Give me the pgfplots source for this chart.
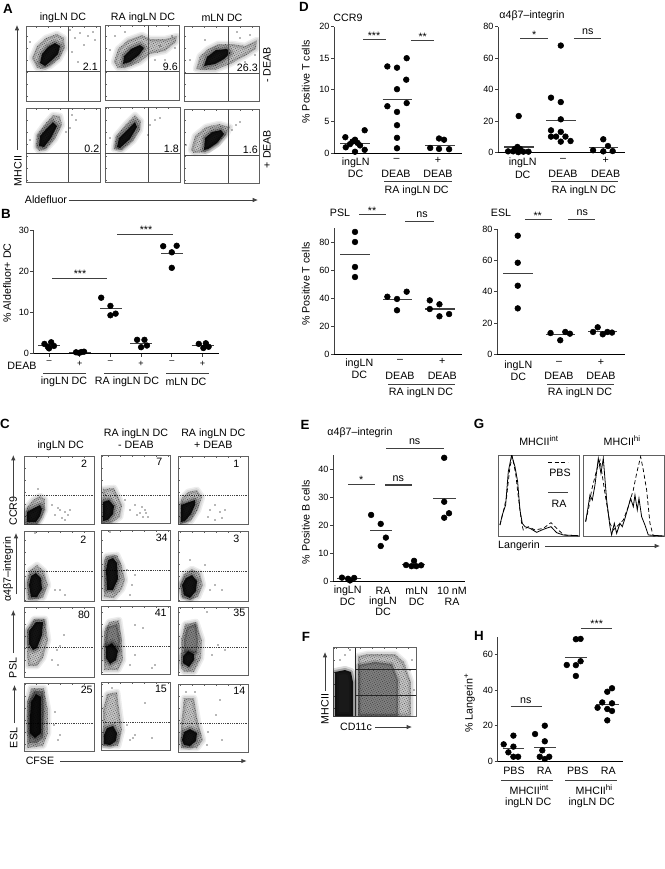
\documentclass[border=0pt]{standalone}
\usepackage{fontspec}
\setmainfont{Liberation Sans}
\usepackage{pgfplots}
\pgfplotsset{compat=1.18}
\usetikzlibrary{arrows.meta,patterns.meta}
\definecolor{fr}{HTML}{606060}
\definecolor{ax}{HTML}{404040}
\newcommand{\fm}{\fontsize{8}{9}\selectfont}
\newcommand{\fs}{\fontsize{6.8}{8}\selectfont}
\newcommand{\fb}{\fontsize{10}{11}\selectfont\bfseries}
\newcommand{\tx}[3]{\node[font=\fm,inner sep=0pt] at (#1,#2) {#3};}
\newcommand{\rt}[3]{\node[font=\fm,inner sep=0pt,rotate=90] at (#1,#2) {#3};}
\newcommand{\lt}[3]{\node[font=\fb,inner sep=0pt] at (#1,#2) {#3};}
\newcommand{\ar}[4]{\draw[-{Latex[length=4pt,width=3.4pt]},line width=.6pt,color=ax] (#1,#2)--(#3,#4);}
\newcommand{\ul}[3]{\draw[line width=.65pt,color=ax] (#1,#3)--(#2,#3);}
% scatter-type styles
\pgfplotsset{
  scat/.style={scale only axis,axis lines=left,clip=false,
    axis line style={-,line width=.7pt},
    x axis line style={-,color=black,line width=.7pt},
    y axis line style={-,color=ax,line width=.9pt},
    xtick=\empty,tick align=outside,major tick length=2.4pt,
    tick style={color=ax,line width=.6pt},
    tick label style={font=\fs,inner sep=1pt},
    /pgf/number format/assume math mode=true,
    anchor=south west},
  pts/.style={only marks,mark=*,mark size=2.15pt,color=black,mark options={draw=none,fill=black}},
  mn/.style={no marks,color=ax,line width=.8pt},
  sg/.style={no marks,color=ax,line width=.8pt},
  flw/.style={scale only axis,anchor=south west,y dir=reverse,axis line style={color=fr,line width=.65pt},
    xticklabels={},yticklabels={},xtick distance=12,ytick distance=12,
    tick align=inside,major tick length=1.3pt,tick style={color=fr,line width=.35pt},
    xtick pos=upper,ytick pos=lower,clip=true},
  px/.style 2 args={at={(#1*0.75pt,-#2*0.75pt)}},
  soft/.style={no markers,line join=round,fill=none,draw=black,draw opacity=#1}
}
\newcommand{\flow}[5]{%
 \pgfmathsetmacro\ww{(#3-#1)*0.75}\pgfmathsetmacro\hh{(#4-#2)*0.75}%
 \begin{axis}[flw,px={#1}{#4},width=\ww pt,height=\hh pt,xmin=#1,xmax=#3,ymin=#2,ymax=#4]
 #5
 \end{axis}}
\newcommand{\blob}[3]{%
 \addplot[soft=.07,line width=5pt] coordinates {#1} --cycle;
 \addplot[soft=.09,line width=2.8pt] coordinates {#1} --cycle;
 \addplot[draw=none,fill=black,fill opacity=.24] coordinates {#1} --cycle;
 \addplot[draw=none,pattern={Dots[radius=.24pt,distance=1.45pt,angle=23]},pattern color=black] coordinates {#1} --cycle;
 \addplot[soft=.14,line width=6pt] coordinates {#2} --cycle;
 \addplot[soft=.25,line width=3pt] coordinates {#2} --cycle;
 \addplot[draw=none,fill=black,fill opacity=.9] coordinates {#2} --cycle;
 \addplot[only marks,mark=*,mark size=.25pt,mark options={draw=none,fill=black!75}] coordinates {#3};}
\newcommand{\midb}[1]{\addplot[soft=.15,line width=3pt] coordinates {#1} --cycle;\addplot[draw=none,fill=black,fill opacity=.35] coordinates {#1} --cycle;}
\newcommand{\gA}[6]{% vx y0 y1 hy x0 x1
 \addplot[no marks,color=black!70,line width=.45pt] coordinates {(#1,#2) (#1,#3)};
 \addplot[no marks,color=black!70,line width=.45pt] coordinates {(#5,#4) (#6,#4)};}
\newcommand{\gC}[3]{\addplot[no marks,color=black!75,line width=.35pt,densely dotted] coordinates {(#1,#3) (#2,#3)};}
\begin{document}
\begin{tikzpicture}[x=0.75pt,y=-0.75pt]
\path[use as bounding box] (0,0) rectangle (665,869);
%%%% A
\flow{26}{26}{100}{101}{\blob{(32,58)(37,46)(46,38)(57,34)(64,38)(65,48)(59,59)(50,66)(42,69)(37,68)}{(40,63)(42,54)(48,47)(55,43)(60,46)(58,54)(51,61)(45,66)}{(75,38)(80,33)(88,36)(93,32)(72,52)(84,45)(30,42)(78,62)(95,40)(70,30)}\gA{68}{26}{101}{71.3}{26}{100}}
\flow{105}{25}{179}{100}{\blob{(114,62)(118,49)(128,40)(142,35)(150,39)(165,39)(177,36)(176,42)(165,51)(150,54)(140,62)(125,68)(118,68)}{(123,64)(124,56)(131,49)(140,45)(144,48)(139,55)(130,62)}{(172,36)(160,46)(155,60)(110,50)(165,60)(125,32)(175,48)(115,36)}\gA{148}{25}{100}{71}{105}{179}}
\flow{184}{26}{259}{101}{\blob{(196,69)(200,56)(208,49)(218,44)(232,44)(245,46)(257,40)(256,49)(245,56)(230,64)(215,70)(201,70)}{(204,66)(207,57)(216,50)(227,49)(230,53)(224,59)(215,64)}{(250,35)(240,38)(237,32)(190,60)(245,62)(255,55)(205,40)}\gA{228}{26}{101}{73}{184}{259}}
\flow{26}{108}{100}{182}{\blob{(36,147)(37,135)(45,124)(53,115)(60,116)(62,125)(55,139)(46,149)(39,151)}{(39,146)(40,136)(47,128)(53,122)(57,126)(51,138)(44,147)}{(72,115)(76,120)(66,132)(70,128)(30,140)}\gA{68}{108}{182}{153}{26}{100}}
\flow{105}{107}{180}{182}{\blob{(114,149)(116,136)(126,124)(135,115)(141,121)(140,130)(133,141)(122,150)}{(117,147)(119,138)(128,129)(135,122)(137,127)(130,139)(120,148)}{(150,125)(155,120)(160,118)(148,135)(110,138)}\gA{148}{107}{182}{153}{105}{180}}
\flow{184}{109}{259}{183}{\blob{(191,150)(195,136)(206,127)(219,124)(230,127)(226,135)(217,144)(205,152)(194,153)}{(204,150)(205,138)(212,132)(221,130)(224,134)(217,143)(208,149)}{(236,125)(240,122)(232,130)(186,145)}\gA{228}{109}{183}{155}{184}{259}}
\tx{63}{18}{ingLN DC}\tx{143}{18}{RA ingLN DC}\tx{222}{18}{mLN DC}
\rt{267}{65}{- DEAB}\rt{267}{149}{+ DEAB}
\rt{18}{171}{MHCII}\ar{17}{150}{17}{25}
\tx{46}{200}{Aldefluor}\ar{69}{200}{258}{200}
\node[font=\fm,anchor=east,inner sep=0pt] at (98,67) {2.1};
\node[font=\fm,anchor=east,inner sep=0pt] at (178,66.5) {9.6};
\node[font=\fm,anchor=east,inner sep=0pt] at (258,67.5) {26.3};
\node[font=\fm,anchor=east,inner sep=0pt] at (99.5,149) {0.2};
\node[font=\fm,anchor=east,inner sep=0pt] at (179,149) {1.8};
\node[font=\fm,anchor=east,inner sep=0pt] at (258,149.5) {1.6};
\lt{8}{9}{A}\lt{6}{214}{B}\lt{5}{424}{C}\lt{304}{7}{D}\lt{305}{425}{E}\lt{306}{637}{F}\lt{479}{424}{G}\lt{479}{636}{H}
%%%% B
\begin{axis}[scat,px={33.7}{353.3},width=139.0pt,height=92pt,xmin=-0.5,xmax=5.54,ymin=0,ymax=30,
  ytick={0,10,20,30},xtick={0,1,2,3,4,5},xticklabels={–,+,–,+,–,+},
  x tick label style={yshift=-2.2pt}]
\addplot[pts] coordinates {(-.15,2.3)(.07,2.7)(.16,1.8)(0,1.2)(-.04,1.6)(.88,.25)(1.05,.3)(1.14,.4)(.98,.1)
 (1.7,13.6)(2,11.6)(2,9.3)(2.17,9.7)(2.87,3.3)(3.11,3.3)(3.19,1.9)(3,1.5)(3.72,26.2)(4.16,26.3)(4,24.7)(4,20.9)(4.88,2.3)(5.11,2.45)(5.2,1.6)(5.03,1.3)};
\addplot[mn] coordinates {(-.35,1.9)(.36,1.9)};
\addplot[mn] coordinates {(.65,.1)(1.37,.1)};
\addplot[mn] coordinates {(1.67,11)(2.37,11)};
\addplot[mn] coordinates {(2.65,2.45)(3.37,2.45)};
\addplot[mn] coordinates {(3.65,24.5)(4.37,24.5)};
\addplot[mn] coordinates {(4.65,1.95)(5.37,1.95)};
\addplot[sg] coordinates {(.11,18.3)(1.9,18.3)};
\addplot[sg] coordinates {(2.23,29.1)(4.03,29.1)};
\end{axis}
\tx{80}{274}{***}\tx{146}{229.5}{***}
\rt{7}{283}{\% Aldefluor+ DC}\tx{22}{366}{DEAB}
\ul{43}{86}{373}\ul{104}{148}{373}\ul{166}{209}{373}
\tx{64}{382}{ingLN DC}\tx{127}{382}{RA ingLN DC}\tx{186}{382}{mLN DC}
%%%% C
\flow{24}{456}{94}{524.3}{\gC{24}{94}{495.7}\blob{(27,507)(33,500)(40,496)(45,499)(45,510)(41,519)(38,524)(25,524)}{(27,512)(34,508)(40,505)(42,509)(40,516)(36,522)(27,522)}{(55,515)(60,510)(65,512)(68,515)(62,518)(58,508)(70,510)(65,520)(52,505)(38,489)}}
\flow{101.3}{455}{170.7}{523.5}{\gC{101}{171}{495}\blob{(103,489)(114,488)(118,496)(122,505)(120,517)(112,523)(102,523)}{(103,502)(109,500)(114,506)(113,514)(108,520)(103,521)}{(140,513)(145,510)(143,517)(137,515)(148,517)(130,510)(135,505)(125,500)(142,507)(146,513)}}
\flow{178.3}{456}{248.3}{524.3}{\gC{178}{249}{495.5}\blob{(181,499)(188,492)(197,490)(202,497)(198,510)(191,521)(180,524)}{(181,505)(189,502)(195,500)(195,505)(191,514)(185,521)(181,522)}{(210,510)(215,505)(220,512)(222,518)(208,517)(215,520)(225,510)}}
\flow{24}{531}{94}{601.7}{\gC{24}{94}{571}\blob{(27,581)(30,570)(37,565)(44,571)(48,585)(43,598)(28,600)}{(29,585)(31,576)(36,573)(41,578)(42,589)(37,597)(31,597)}{(55,590)(60,590)(65,595)(35,533)}}
\flow{101.3}{530}{170.7}{600.5}{\gC{101}{171}{570}\blob{(104,561)(106,556)(117,555)(122,566)(125,580)(122,589)(114,598)(104,597)}{(106,570)(108,560)(113,558)(117,563)(118,579)(113,590)(107,590)}{(135,575)(132,585)(127,570)(130,595)(110,532)}}
\flow{178.3}{531}{248.3}{601.7}{\gC{178}{249}{571}\blob{(180,585)(184,574)(192,569)(200,573)(203,585)(198,597)(190,600)(182,598)}{(182,585)(186,578)(192,575)(197,581)(196,591)(190,598)(184,595)}{(210,590)(215,585)(222,590)(205,565)(190,560)}}
\flow{24}{607.3}{94}{677.7}{\gC{24}{94}{647.3}\blob{(27,653)(27,630)(34,619)(45,619)(48,640)(43,658)(37,666)(28,666)}{(29,644)(29,631)(36,622)(43,622)(42,635)(37,648)(33,650)}{(60,646)(57,650)(64,635)(58,665)(52,660)}}
\flow{101.3}{606.5}{170.7}{674.5}{\gC{101}{171}{646.5}\blob{(104,670)(104,632)(109,622)(119,620)(122,640)(123,660)(118,670)}{(106,658)(106,647)(112,643)(118,651)(116,660)(110,664)}{(135,625)(143,628)(135,655)(130,665)(155,665)(152,668)}\midb{(105,645)(107,627)(117,624)(120,640)(119,650)}}
\flow{178.3}{607}{248.3}{675.5}{\gC{178}{249}{647.5}\blob{(181,668)(181,640)(185,624)(196,622)(202,640)(201,658)(194,672)(184,672)}{(183,663)(183,656)(188,651)(194,654)(194,660)(189,667)}{(218,645)(225,650)(212,655)(207,612)}\midb{(184,640)(187,627)(196,624)(198,640)(197,653)(184,653)}}
\flow{24}{683.3}{94}{751.7}{\gC{24}{94}{723.3}\blob{(27,748)(27,702)(31,688)(44,688)(48,710)(48,733)(43,746)}{(30,718)(31,702)(36,694)(41,697)(41,714)(41,733)(35,738)(30,733)}{(55,712)(60,735)(58,740)(54,725)}\midb{(29,730)(29,702)(34,691)(43,691)(44,710)(43,738)(37,743)(29,743)}}
\flow{101.3}{682.5}{170.7}{750.5}{\gC{101}{171}{722}\blob{(103,746)(103,710)(107,694)(117,692)(119,708)(122,730)(118,746)}{(104,735)(107,728)(113,726)(117,733)(116,741)(110,745)(104,744)}{(135,735)(133,738)(152,738)(145,703)(130,740)(127,725)(112,688)}}
\flow{178.3}{684}{248.3}{752}{\gC{178}{249}{723}\blob{(181,748)(181,725)(184,698)(194,698)(198,722)(203,740)(197,748)}{(182,740)(184,732)(190,729)(197,733)(196,741)(190,746)(184,745)}{(220,700)(216,715)(208,732)(222,740)(207,745)(186,692)(195,692)}}
\tx{60.7}{445.7}{ingLN DC}\tx{136}{434}{RA ingLN DC}\tx{136}{445}{- DEAB}\tx{213.3}{434}{RA ingLN DC}\tx{213.3}{445}{+ DEAB}
\tx{84}{463.3}{2}\tx{159.3}{461.7}{7}\tx{236.3}{464.3}{1}
\tx{83.3}{539.3}{2}\tx{161.7}{537.7}{34}\tx{236.3}{539.3}{3}
\tx{84}{615}{80}\tx{160.7}{613.3}{41}\tx{239.3}{613.3}{35}
\tx{86.7}{690}{25}\tx{161}{689}{15}\tx{239.3}{690.7}{14}
\rt{13.3}{511}{CCR9}\ar{13.3}{498}{13.3}{455}
\rt{8}{569}{α4β7–integrin}\ar{16}{594}{16}{533}
\rt{13}{668}{PSL}\ar{13.3}{653}{13.3}{610}
\rt{13.7}{738}{ESL}\ar{14.5}{723}{14.5}{685}
\tx{40}{761}{CFSE}\ar{60}{761}{246.7}{761}
%%%% D CCR9
\begin{axis}[scat,px={334.3}{153},width=95.55pt,height=94.8pt,xmin=-.493,xmax=2.54,ymin=0,ymax=20,ytick={0,5,10,15,20}]
\addplot[pts] coordinates {(-.23,2.5)(.23,3.6)(-.22,.9)(0,2.1)(-.06,1.8)(.06,1.6)(-.12,1.4)(.12,1.2)(0,.2)(.23,.5)
 (.77,13.7)(1,13.5)(1.23,15)(1.22,11.6)(1,10.1)(.77,7.4)(1.23,7.9)(1,6.5)(1,4.4)(1,2.4)(1,.75)
 (2,2.3)(2.12,2.1)(1.79,.8)(2,.65)(2.24,.6)};
\addplot[mn] coordinates {(-.35,1.5)(.36,1.5)};
\addplot[mn] coordinates {(.66,8.5)(1.35,8.5)};
\addplot[mn] coordinates {(1.67,1.25)(2.37,1.25)};
\addplot[sg] coordinates {(.2,17.9)(.73,17.9)};
\addplot[sg] coordinates {(1.33,17.8)(1.87,17.8)};
\end{axis}
\tx{374}{36}{***}\tx{422.7}{37}{**}\tx{348}{18}{CCR9}
\tx{355.7}{163}{ingLN}\tx{355.7}{174}{DC}\tx{396.7}{160}{–}\tx{438}{160}{+}\tx{396}{174}{DEAB}\tx{438}{174}{DEAB}
\ul{384}{452}{181.7}\tx{416.7}{191}{RA ingLN DC}\rt{305.7}{81.7}{\% Positive T cells}
%%%% D a4b7
\begin{axis}[scat,px={498.3}{152.3},width=95pt,height=94.2pt,xmin=-.47,xmax=2.51,ymin=0,ymax=80,ytick={0,20,40,60,80}]
\addplot[pts] coordinates {(.01,23.1)(-.02,3.4)(-.08,2.1)(.04,2.1)(-.24,.6)(-.12,.6)(0,.1)(.12,.4)(.24,.4)
 (1,68)(.77,34.8)(1,32)(1,21)(.77,14)(1,13)(.77,10)(.89,10)(1.11,10)(1,6.8)(1.23,7.2)
 (2,8.3)(2.11,4)(1.76,1.3)(2,.6)(2.22,.8)};
\addplot[mn] coordinates {(-.33,3.4)(.36,3.4)};
\addplot[mn] coordinates {(.66,20.4)(1.35,20.4)};
\addplot[mn] coordinates {(1.66,3)(2.34,3)};
\addplot[sg] coordinates {(.05,72.4)(.69,72.4)};
\addplot[sg] coordinates {(1.31,72.2)(1.95,72.2)};
\end{axis}
\tx{534.3}{34.5}{*}\tx{587.7}{31.5}{ns}\tx{532}{16}{α4β7–integrin}
\tx{522.7}{163}{ingLN}\tx{522.7}{175}{DC}\tx{563}{160}{–}\tx{605.7}{160}{+}\tx{563}{174}{DEAB}\tx{605.7}{174}{DEAB}
\ul{551}{618.3}{181.7}\tx{584}{191}{RA ingLN DC}
%%%% PSL
\begin{axis}[scat,px={334.3}{354},width=95.55pt,height=94.3pt,xmin=-.493,xmax=2.54,ymin=0,ymax=90,ytick={0,20,40,60,80}]
\addplot[pts] coordinates {(0,87.4)(0,80.2)(0,62.3)(0,55.1)(.77,41)(1,39.4)(1.23,44.6)(1,31.3)(1.78,38.4)(2.01,35.6)(1.78,32.2)(2.01,27)(2.24,28.6)};
\addplot[mn] coordinates {(-.35,71.1)(.36,71.1)};
\addplot[mn] coordinates {(.67,38.9)(1.36,38.9)};
\addplot[mn] coordinates {(1.67,32.2)(2.37,32.2)};
\addplot[sg] coordinates {(.1,100)(.73,100)};
\addplot[sg] coordinates {(1.2,94.7)(1.87,94.7)};
\end{axis}
\tx{372}{210.5}{**}\tx{422}{215}{ns}\tx{340}{213}{PSL}
\tx{359.3}{364}{ingLN}\tx{359.3}{375}{DC}\tx{400}{361}{–}\tx{442.3}{361}{+}\tx{400}{375.7}{DEAB}\tx{442.3}{375.7}{DEAB}
\ul{388.3}{455}{384}\tx{421}{393}{RA ingLN DC}\rt{305.7}{284}{\% Positive T cells}
%%%% ESL
\begin{axis}[scat,px={497.3}{354.3},width=95.8pt,height=93.75pt,xmin=-.486,xmax=2.55,ymin=0,ymax=80,ytick={0,20,40,60,80}]
\addplot[pts] coordinates {(0,75.9)(0,58.6)(0,43.9)(0,29.4)(.78,13.6)(1.13,14.3)(1.24,13.2)(1.01,9)(1.79,14.3)(1.9,17.3)(2.02,12.8)(2.13,14.3)(2.24,13.9)};
\addplot[mn] coordinates {(-.34,52)(.36,52)};
\addplot[mn] coordinates {(.67,12.6)(1.37,12.6)};
\addplot[mn] coordinates {(1.68,14.5)(2.37,14.5)};
\addplot[sg] coordinates {(.17,86)(.81,86)};
\addplot[sg] coordinates {(1.19,86)(1.84,86)};
\end{axis}
\tx{537.7}{216}{**}\tx{582.3}{213}{ns}\tx{501}{213}{ESL}
\tx{518.3}{365.7}{ingLN}\tx{518.3}{377}{DC}\tx{559}{362.7}{–}\tx{601}{362.7}{+}\tx{559}{376}{DEAB}\tx{601}{376}{DEAB}
\ul{547}{613.7}{384}\tx{580}{393}{RA ingLN DC}
%%%% E
\begin{axis}[scat,px={333.3}{581},width=98.8pt,height=94.5pt,xmin=-.49,xmax=3.62,ymin=0,ymax=45,ytick={0,10,20,30,40}]
\addplot[pts] coordinates {(-.22,1.2)(-.03,.8)(.16,1.1)(.03,.2)(.69,23.6)(.99,20.4)(1.15,15.5)(.99,12.5)(2.03,7.2)(1.78,5.7)(1.95,5.3)(2.1,5.3)(2.25,5.6)(2.97,44)(2.97,28.3)(3.12,24.2)(2.97,22.6)};
\addplot[mn] coordinates {(-.37,.8)(.37,.8)};
\addplot[mn] coordinates {(.66,17.9)(1.34,17.9)};
\addplot[mn] coordinates {(1.66,5.9)(2.37,5.9)};
\addplot[mn] coordinates {(2.63,29.6)(3.34,29.6)};
\addplot[sg] coordinates {(-.02,34.5)(.81,34.5)};
\addplot[sg] coordinates {(1.13,34.3)(1.96,34.3)};
\addplot[sg] coordinates {(1.16,47.4)(2.97,47.4)};
\end{axis}
\tx{361.3}{480}{*}\tx{398.3}{478.3}{ns}\tx{414.7}{441.7}{ns}\tx{360}{433}{α4β7–integrin}
\tx{347.7}{590.7}{ingLN}\tx{347.7}{601.7}{DC}\tx{383}{590.7}{RA}\tx{383}{601.7}{ingLN}\tx{383}{612}{DC}\tx{416.7}{590.7}{mLN}\tx{416.7}{601.7}{DC}\tx{452}{590.7}{10 nM}\tx{452}{601.7}{RA}
\rt{305.7}{522}{\% Positive B cells}
%%%% F
\flow{333}{647.7}{416}{716}{\blob{(358,656)(368,654)(395,654)(404,662)(411,682)(411,716)(358,716)}{(335,672)(345,670)(351,672)(353,682)(353,716)(335,716)}{(345,655)(350,650)(340,660)(412,660)(410,670)(414,690)}
 \midb{(358,665)(375,662)(392,664)(398,680)(398,716)(358,716)}
 \addplot[no marks,color=black!85,line width=.6pt] coordinates {(355.7,716)(355.7,647.7)};
 \addplot[no marks,color=black!85,line width=.6pt] coordinates {(355.7,669.3)(416,669.3)};
 \addplot[no marks,color=black!85,line width=.6pt] coordinates {(355.7,695.3)(416,695.3)};}
\rt{325}{709}{MHCII}\ar{325}{691}{325}{652}
\tx{356}{727}{CD11c}\ar{375}{727}{412}{727}
%%%% G
\begin{axis}[flw,xtick=\empty,ytick=\empty,px={498.3}{536},width=60.5pt,height=60.75pt,xmin=100,xmax=342,ymin=135,ymax=378]
\addplot[no marks,black,line width=.6pt] coordinates {(105,345)(112,315)(122,285)(130,185)(140,135)(150,170)(158,215)(165,300)(172,340)(180,350)(195,355)(215,367)(235,358)(258,350)(275,368)(295,375)(340,377)};
\addplot[no marks,black,line width=.55pt,densely dashed] coordinates {(105,345)(115,305)(125,260)(135,170)(142,140)(152,190)(160,260)(170,340)(175,360)(190,350)(210,360)(235,355)(258,338)(280,360)(297,375)(340,377)};
\end{axis}
\begin{axis}[flw,xtick=\empty,ytick=\empty,px={583.3}{536},width=60.75pt,height=60.75pt,xmin=355,xmax=598,ymin=135,ymax=378]
\addplot[no marks,black,line width=.6pt] coordinates {(362,335)(368,300)(375,255)(382,270)(390,225)(400,145)(408,190)(415,145)(425,270)(435,350)(440,375)(448,340)(455,370)(465,340)(472,350)(480,325)(490,290)(497,265)(505,290)(510,255)(517,300)(522,265)(530,320)(540,345)(550,375)(597,378)};
\addplot[no marks,black,line width=.55pt,densely dashed] coordinates {(362,335)(372,290)(380,240)(395,180)(405,150)(420,250)(435,340)(445,360)(460,345)(475,330)(490,290)(505,240)(515,190)(527,140)(535,180)(545,240)(555,340)(565,378)(597,378)};
\end{axis}
\node[font=\fm,inner sep=0pt] at (539,441) {MHCII\textsuperscript{int}};
\node[font=\fm,inner sep=0pt] at (622.3,441) {MHCII\textsuperscript{hi}};
\tx{560}{473.3}{PBS}\tx{559}{504}{RA}
\draw[line width=.6pt,densely dashed] (548,462.7)--(568,462.7);\ul{548}{568}{492.3}
\tx{519}{546}{Langerin}\ar{545}{546}{660}{546}
%%%% H
\begin{axis}[scat,px={497.7}{761},width=94.2pt,height=93.2pt,xmin=-.52,xmax=3.48,ymin=0,ymax=70,ytick={0,20,40,60}]
\addplot[pts] coordinates {(-.33,9.4)(-.02,14.3)(-.02,8.1)(-.18,4.9)(-.02,2.4)(.13,2.4)
 (.67,15.2)(.98,19.9)(.98,11.1)(.9,6)(.82,2.4)(.98,1.1)(1.12,2.4)
 (1.97,68.6)(2.12,68.8)(2.12,56.2)(1.68,54.1)(1.97,54)(1.97,47.9)
 (3.12,41)(2.97,39)(2.81,33)(3.12,32.5)(2.66,30)(2.97,29.3)(3.12,28.2)(2.97,22.9)};
\addplot[mn] coordinates {(-.36,6.8)(.33,6.8)};
\addplot[mn] coordinates {(.64,7.5)(1.33,7.5)};
\addplot[mn] coordinates {(1.62,58.3)(2.33,58.3)};
\addplot[mn] coordinates {(2.61,31.8)(3.33,31.8)};
\addplot[sg] coordinates {(-.11,30.8)(.9,30.8)};
\addplot[sg] coordinates {(2.13,74.8)(3.13,74.8)};
\end{axis}
\tx{525.7}{700.7}{ns}\tx{596.7}{624}{***}
\tx{514}{771.3}{PBS}\tx{544.3}{771.3}{RA}\tx{577.7}{771.3}{PBS}\tx{608.3}{771.3}{RA}
\ul{501}{553.3}{780}\ul{565}{617.3}{780}
\node[font=\fm,inner sep=0pt] at (529.3,790) {MHCII\textsuperscript{int}};\tx{528.3}{802.7}{ingLN DC}
\node[font=\fm,inner sep=0pt] at (594.3,790) {MHCII\textsuperscript{hi}};\tx{591.7}{802.7}{ingLN DC}
\rt{469.5}{703}{\% Langerin\textsuperscript{+}}
\end{tikzpicture}
\end{document}
